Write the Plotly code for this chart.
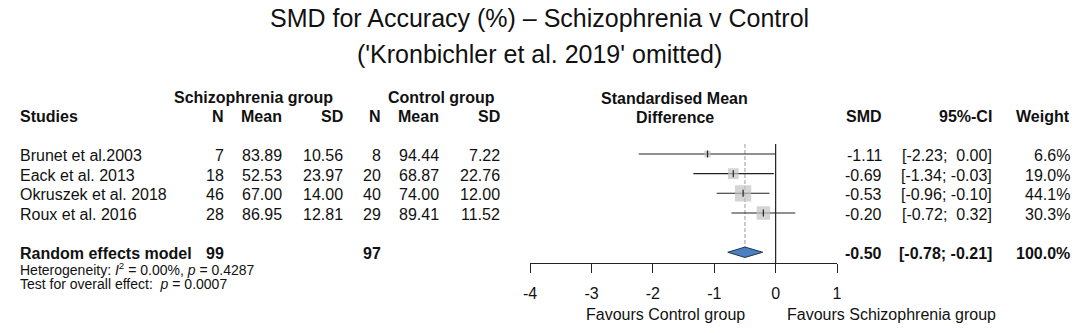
import plotly.graph_objects as go

# ---------------- data ----------------
studies = ["Brunet et al.2003", "Eack et al. 2013", "Okruszek et al. 2018", "Roux et al. 2016"]
sz_n = [7, 18, 46, 28]
sz_mean = [83.89, 52.53, 67.00, 86.95]
sz_sd = [10.56, 23.97, 14.00, 12.81]
ct_n = [8, 20, 40, 29]
ct_mean = [94.44, 68.87, 74.00, 89.41]
ct_sd = [7.22, 22.76, 12.00, 11.52]
smd = [-1.11, -0.69, -0.53, -0.20]
ci_lo = [-2.23, -1.34, -0.96, -0.72]
ci_hi = [0.00, -0.03, -0.10, 0.32]
weight = [6.6, 19.0, 44.1, 30.3]

re_label = "Random effects model"
re_n_sz = 99
re_n_ct = 97
re_smd = -0.50
re_lo = -0.78
re_hi = -0.21
re_weight = 100.0
heterogeneity = "Heterogeneity: <i>I</i><sup>2</sup> = 0.00%, <i>p</i> = 0.4287"
overall_test = "Test for overall effect:  <i>p</i> = 0.0007"

tick_vals = [-4, -3, -2, -1, 0, 1]
tick_text = ["-4", "-3", "-2", "-1", "0", "1"]

title1 = "SMD for Accuracy (%) \u2013 Schizophrenia v Control"
title2 = "('Kronbichler et al. 2019' omitted)"
label_left = "Favours Control group"
label_right = "Favours Schizophrenia group"

# ---------------- layout geometry ----------------
OFF = 0                 # body margin removed by post_script below
W, H = 1084 - OFF, 333 - OFF
FONT = "Liberation Sans, Arial, sans-serif"
FS = 16
ROW_PX = 19.65          # pixel spacing of rows
ROW1_PX = 154.0         # pixel of first study row
AXIS_PX = 263.0         # pixel of x axis line
X_LEFT_PX, X_RIGHT_PX = 529.0, 839.3


def px2y(p):
    return 1 + (p - ROW1_PX) / ROW_PX


def pxx(p):
    return (p - OFF) / W


def pxy(p):
    return 1 - (p - OFF) / H


rows = [i + 1 for i in range(len(studies))]
re_row = len(studies) + 2

fig = go.Figure()

# CI lines
xs, ys = [], []
for lo, hi, r in zip(ci_lo, ci_hi, rows):
    xs += [lo, hi, None]
    ys += [r, r, None]
fig.add_trace(go.Scatter(x=xs, y=ys, mode="lines",
                         line=dict(color="#222222", width=1.1),
                         hoverinfo="skip", showlegend=False))
# weighted squares
fig.add_trace(go.Scatter(x=smd, y=rows, mode="markers",
                         marker=dict(symbol="square", color="#c2c2c2",
                                     size=[2.45 * w ** 0.5 for w in weight],
                                     line=dict(width=0)),
                         hoverinfo="skip", showlegend=False))
# point ticks
fig.add_trace(go.Scatter(x=smd, y=rows, mode="markers",
                         marker=dict(symbol="line-ns", size=5,
                                     line=dict(color="#222222", width=1.2)),
                         hoverinfo="skip", showlegend=False))

# zero line and dashed pooled line
top_y = px2y(144)
fig.add_shape(type="line", x0=0, x1=0, y0=top_y, y1=px2y(AXIS_PX), xref="x", yref="y",
              line=dict(color="#222222", width=1.2), layer="below")
dh = 5.2 / ROW_PX
fig.add_shape(type="line", x0=re_smd, x1=re_smd, y0=top_y, y1=re_row - dh, xref="x", yref="y",
              line=dict(color="#9a9a9a", width=1, dash="4px,2px"), layer="below")

# diamond
fig.add_trace(go.Scatter(x=[re_lo, re_smd, re_hi, re_smd, re_lo],
                         y=[re_row, re_row - dh, re_row, re_row + dh, re_row],
                         mode="lines", fill="toself", fillcolor="#4a80bd",
                         line=dict(color="#1d3552", width=1),
                         hoverinfo="skip", showlegend=False))

fig.update_layout(
    width=W, height=H,
    margin=dict(l=0, r=0, t=0, b=0),
    paper_bgcolor="white", plot_bgcolor="white",
    font=dict(family=FONT, size=FS, color="#111111"),
    showlegend=False,
    xaxis=dict(domain=[pxx(X_LEFT_PX), pxx(X_RIGHT_PX)], range=[-4, 1],
               tickvals=tick_vals, ticktext=tick_text,
               showline=True, linecolor="#222222", linewidth=1.2,
               ticks="outside", ticklen=9, tickcolor="#222222", tickwidth=1.2,
               showgrid=False, zeroline=False, ticklabelstandoff=7,
               tickfont=dict(family=FONT, size=FS, color="#111111")),
    yaxis=dict(domain=[pxy(AXIS_PX), 1], range=[px2y(AXIS_PX), px2y(OFF)],
               visible=False, showgrid=False, zeroline=False),
)


def txt(text, x_px, y, anchor="right", bold=False, size=FS, yref="y"):
    if bold:
        text = "<b>" + text + "</b>"
    fig.add_annotation(text=text, x=pxx(x_px), y=y, xref="paper", yref=yref,
                       xanchor=anchor, yanchor="middle", showarrow=False,
                       borderpad=0,
                       font=dict(family=FONT, size=size, color="#111111"))


# titles
txt(title1, 538, pxy(18), anchor="center", size=25, yref="paper")
txt(title2, 538, pxy(54), anchor="center", size=25, yref="paper")

# column positions (pixels)
X_STUDY = 12.5
X_SZN, X_SZM, X_SZSD = 220, 279, 340.5
X_CTN, X_CTM, X_CTSD = 379, 437.5, 500
X_SMD, X_CI, X_W = 885.5, 997.5, 1075.5

HDR1, HDR2 = px2y(97), px2y(116.5)
txt("Schizophrenia group", 249, HDR1, anchor="center", bold=True)
txt("Control group", 439.5, HDR1, anchor="center", bold=True)
txt("Studies", X_STUDY, HDR2, anchor="left", bold=True)
for lab, xp in [("N", X_SZN), ("Mean", X_SZM), ("SD", X_SZSD),
                ("N", X_CTN), ("Mean", X_CTM), ("SD", X_CTSD),
                ("SMD", X_SMD), ("95%-CI", X_CI), ("Weight", X_W)]:
    txt(lab, xp, HDR2, bold=True)
txt("Standardised Mean", 675, px2y(98), anchor="center", bold=True)
txt("Difference", 675, px2y(117.5), anchor="center", bold=True)


def fmt_ci(v):
    s = f"{v:.2f}"
    return s if v < 0 else "\u00a0" + s


TEXT_SHIFT = 0.08
for i, r in enumerate(rows):
    yy = r + TEXT_SHIFT
    txt(studies[i], X_STUDY, yy, anchor="left")
    txt(str(sz_n[i]), X_SZN, yy)
    txt(f"{sz_mean[i]:.2f}", X_SZM, yy)
    txt(f"{sz_sd[i]:.2f}", X_SZSD, yy)
    txt(str(ct_n[i]), X_CTN, yy)
    txt(f"{ct_mean[i]:.2f}", X_CTM, yy)
    txt(f"{ct_sd[i]:.2f}", X_CTSD, yy)
    txt(f"{smd[i]:.2f}", X_SMD, yy)
    txt(f"[{fmt_ci(ci_lo[i])}; {fmt_ci(ci_hi[i])}]", X_CI, yy)
    txt(f"{weight[i]:.1f}%", X_W, yy)

yy = re_row + TEXT_SHIFT
txt(re_label, X_STUDY, yy, anchor="left", bold=True)
txt(str(re_n_sz), X_SZN, yy, bold=True)
txt(str(re_n_ct), X_CTN, yy, bold=True)
txt(f"{re_smd:.2f}", X_SMD, yy, bold=True)
txt(f"[{fmt_ci(re_lo)}; {fmt_ci(re_hi)}]", X_CI, yy, bold=True)
txt(f"{re_weight:.1f}%", X_W, yy, bold=True)

txt(heterogeneity, X_STUDY, pxy(268.5), anchor="left", size=14, yref="paper")
txt(overall_test, X_STUDY, pxy(283.5), anchor="left", size=14, yref="paper")

# favours labels
txt(label_left, 747, pxy(314), anchor="right", yref="paper")
txt(label_right, 788, pxy(314), anchor="left", yref="paper")

fig.write_html("out.html",
               config={"displayModeBar": False},
               post_script="document.body.style.margin='0';document.body.style.overflow='hidden';")
